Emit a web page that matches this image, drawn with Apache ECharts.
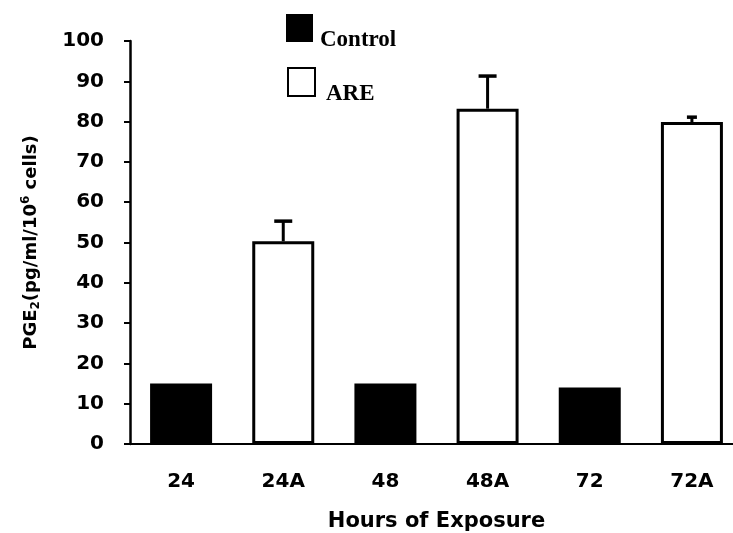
<!DOCTYPE html>
<html><head><meta charset="utf-8">
<script src="https://cdn.jsdelivr.net/npm/echarts@6.0.0/dist/echarts.min.js"></script>
<style>html,body{margin:0;padding:0;background:#fff}#c{width:733px;height:533px}</style>
</head><body><div id="c"></div>
<script>
const categories = ['24', '24A', '48', '48A', '72', '72A'];
const controlValues = [15, '-', 15, '-', 14, '-'];
const areValues = ['-', 50.3, '-', 83.2, '-', 79.9];
const areErrorTop = ['-', 55.3, '-', 91.3, '-', 81.1];
const yMin = 0, yMax = 100, yStep = 10;

const errData = [];
categories.forEach(function (c, i) {
  if (areErrorTop[i] !== '-') errData.push([i, areValues[i], areErrorTop[i]]);
});

const chart = echarts.init(document.getElementById('c'));
const tickFont = {fontFamily: 'DejaVu Sans', fontWeight: 'bold', fontSize: 20, color: '#000'};
const legendText = {fontFamily: 'Liberation Serif', fontWeight: 'bold', fontSize: 23, color: '#000', lineHeight: 24};
const lowered = function (name) { return '\n' + name; };

chart.setOption({
  animation: false,
  backgroundColor: '#fff',
  grid: {left: 130, right: -10, top: 41, bottom: 89, outerBoundsMode: 'none', containLabel: false},
  legend: [
    {data: ['Control'], left: 286, top: 4, padding: 0, itemWidth: 27, itemHeight: 28, icon: 'rect',
     formatter: lowered, selectedMode: false, textStyle: Object.assign({padding: [0, 0, 0, 2]}, legendText)},
    {data: ['ARE'], left: 287, top: 58, padding: 0, itemWidth: 27, itemHeight: 28, icon: 'rect',
     formatter: lowered, selectedMode: false, textStyle: Object.assign({padding: [0, 0, 0, 6]}, legendText)}
  ],
  xAxis: {
    type: 'category',
    data: categories,
    name: 'Hours of Exposure',
    nameLocation: 'middle',
    nameGap: 67,
    nameTextStyle: {fontFamily: 'DejaVu Sans', fontWeight: 'bold', fontSize: 21, color: '#000'},
    axisLine: {lineStyle: {color: '#000', width: 2}},
    axisTick: {length: 6, lineStyle: {color: '#000', width: 2}},
    axisLabel: Object.assign({margin: 28}, tickFont),
    splitLine: {show: false}
  },
  yAxis: {
    type: 'value',
    min: yMin, max: yMax, interval: yStep,
    name: 'PGE{sub|2}(pg/ml/10{sup|6} cells)',
    nameLocation: 'middle',
    nameGap: 88,
    nameRotate: 90,
    nameTextStyle: {
      fontFamily: 'DejaVu Sans', fontWeight: 'bold', fontSize: 18, color: '#000', lineHeight: 22,
      rich: {
        sub: {fontFamily: 'DejaVu Sans', fontWeight: 'bold', fontSize: 12, color: '#000', lineHeight: 12, verticalAlign: 'bottom'},
        sup: {fontFamily: 'DejaVu Sans', fontWeight: 'bold', fontSize: 12, color: '#000', lineHeight: 12, verticalAlign: 'top'}
      }
    },
    axisLine: {show: true, lineStyle: {color: '#000', width: 2.5}},
    axisTick: {show: true, length: 6, lineStyle: {color: '#000', width: 2}},
    axisLabel: Object.assign({margin: 26}, tickFont),
    splitLine: {show: false}
  },
  series: [
    {name: 'Control', type: 'bar', data: controlValues, barWidth: 62, barGap: '-100%',
     itemStyle: {color: '#000', borderColor: '#000', borderWidth: 0}},
    {name: 'ARE', type: 'bar', data: areValues, barWidth: 62, barGap: '-100%',
     itemStyle: {color: '#fff', borderColor: '#000', borderWidth: 3}},
    {name: 'err', type: 'custom', data: errData, z: 5,
     encode: {x: 0, y: [1, 2]},
     renderItem: function (params, api) {
       const x = api.value(0);
       const p0 = api.coord([x, api.value(1)]);
       const p1 = api.coord([x, api.value(2)]);
       const hw = x === 5 ? 5 : 9;
       return {type: 'group', children: [
         {type: 'line', shape: {x1: p0[0], y1: p0[1], x2: p1[0], y2: p1[1]}, style: {stroke: '#000', lineWidth: 3}},
         {type: 'line', shape: {x1: p1[0] - hw, y1: p1[1], x2: p1[0] + hw, y2: p1[1]}, style: {stroke: '#000', lineWidth: 3.5}}
       ]};
     }}
  ]
});
</script>
</body></html>
